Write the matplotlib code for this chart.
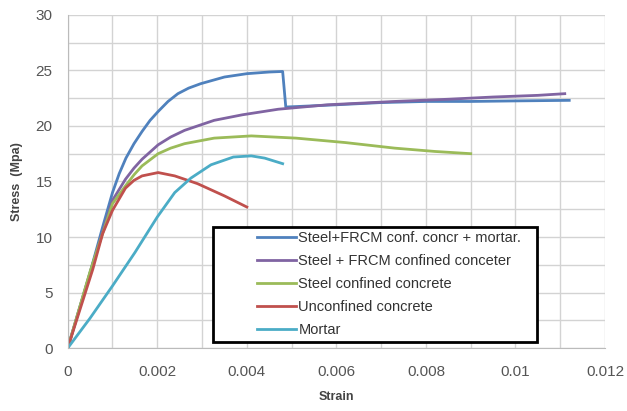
import numpy as np
import matplotlib.pyplot as plt
from matplotlib.ticker import MultipleLocator
from matplotlib.patches import Rectangle

plt.rcParams['font.family'] = ['Liberation Sans', 'DejaVu Sans']

# curves: strain, stress (MPa)
frcm_mortar_x = [0, 0.0005, 0.00078, 0.001, 0.00115, 0.0013, 0.00148, 0.00166, 0.00184, 0.00202,
                 0.00224, 0.00246, 0.0027, 0.00297, 0.0035, 0.004, 0.0045, 0.0048, 0.00487,
                 0.006, 0.007, 0.008, 0.009, 0.01, 0.0112]
frcm_mortar_y = [0, 6.8, 10.9, 14.0, 15.7, 17.1, 18.4, 19.5, 20.5, 21.3,
                 22.2, 22.9, 23.4, 23.8, 24.4, 24.7, 24.85, 24.9, 21.7,
                 21.9, 22.1, 22.2, 22.2, 22.25, 22.3]

frcm_x = [0, 0.0005, 0.001, 0.00129, 0.00148, 0.00166, 0.00202, 0.0023, 0.00261, 0.00327, 0.0039,
          0.0047, 0.0058, 0.0073, 0.0085, 0.0095, 0.0105, 0.0111]
frcm_y = [0, 6.8, 13.3, 15.2, 16.2, 17.0, 18.3, 19.0, 19.6, 20.5, 21.0,
          21.5, 21.9, 22.2, 22.4, 22.6, 22.75, 22.9]

steel_x = [0, 0.0005, 0.001, 0.00129, 0.00148, 0.00166, 0.00202, 0.0023, 0.00261, 0.00327, 0.0041,
           0.0051, 0.0062, 0.0073, 0.0082, 0.009]
steel_y = [0, 6.9, 13.0, 14.6, 15.6, 16.4, 17.5, 18.0, 18.4, 18.9, 19.1,
           18.9, 18.5, 18.0, 17.7, 17.5]

unconf_x = [0, 0.00056, 0.00078, 0.001, 0.00129, 0.00148, 0.00166, 0.00202, 0.00239, 0.0029,
            0.0035, 0.004]
unconf_y = [0, 7.1, 10.3, 12.4, 14.4, 15.1, 15.5, 15.8, 15.5, 14.8, 13.7, 12.7]

mortar_x = [0, 0.0005, 0.001, 0.0015, 0.002, 0.00239, 0.00275, 0.0032, 0.0037, 0.0041, 0.0044,
            0.0048]
mortar_y = [0, 2.7, 5.6, 8.6, 11.8, 14.0, 15.3, 16.5, 17.2, 17.3, 17.1, 16.6]

labels = ["Steel+FRCM conf. concr + mortar.", "Steel + FRCM confined conceter",
          "Steel confined concrete", "Unconfined concrete", "Mortar"]
colors = ["#4F81BD", "#8064A2", "#9BBB59", "#C0504D", "#4BACC6"]

xticks = [0, 0.002, 0.004, 0.006, 0.008, 0.01, 0.012]
xticklabels = ["0", "0.002", "0.004", "0.006", "0.008", "0.01", "0.012"]
yticks = [0, 5, 10, 15, 20, 25, 30]

fig = plt.figure(figsize=(6.27, 4.11), dpi=100)
ax = fig.add_axes([0.108, 0.153, 0.857, 0.811])

series = [(frcm_mortar_x, frcm_mortar_y), (frcm_x, frcm_y), (steel_x, steel_y),
          (unconf_x, unconf_y), (mortar_x, mortar_y)]
for (x, y), lab, c in zip(series, labels, colors):
    ax.plot(x, y, color=c, lw=2.0, label=lab, solid_joinstyle='round')

ax.set_xlim(0, 0.012)
ax.set_ylim(0, 30)
ax.set_xticks(xticks)
ax.set_xticklabels(xticklabels)
ax.set_yticks(yticks)
ax.xaxis.set_minor_locator(MultipleLocator(0.001))
ax.yaxis.set_minor_locator(MultipleLocator(2.5))
ax.grid(which='both', color="#D3D3D3", lw=1.0)
ax.set_axisbelow(True)
for s in ['top', 'right']:
    ax.spines[s].set_visible(False)
for s in ['left', 'bottom']:
    ax.spines[s].set_color("#BBBBBB")
ax.tick_params(which='both', length=0, labelsize=11, colors="#555555")
ax.tick_params(axis='x', pad=12)
ax.tick_params(axis='y', pad=11)

ax.set_xlabel("Strain", fontsize=9, fontweight='bold', color="#444444", labelpad=9)
ax.set_ylabel("Stress  (Mpa)", fontsize=9, fontweight='bold', color="#444444", labelpad=9)

# legend box
ax.add_patch(Rectangle((0.27, 0.018), 0.603, 0.345, transform=ax.transAxes,
                       facecolor='white', edgecolor='black', lw=2, zorder=4))
leg = ax.legend(loc='upper left', bbox_to_anchor=(0.352, 0.352), frameon=False,
                fontsize=10.5, handlelength=2.7, handletextpad=0.15,
                labelspacing=0.62, borderpad=0, borderaxespad=0, labelcolor="#333333")
leg.set_zorder(5)

fig.savefig("out.png", dpi=100)
